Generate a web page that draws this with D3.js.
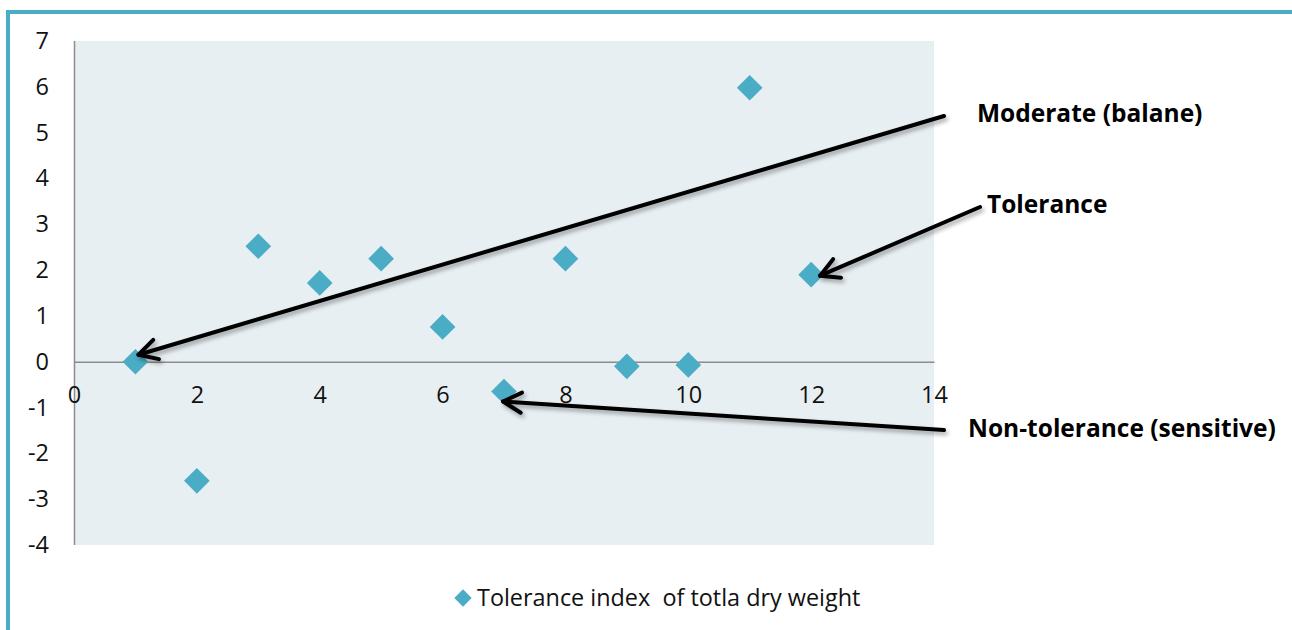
<!DOCTYPE html>
<html>
<head>
<meta charset="utf-8">
<script src="https://cdn.jsdelivr.net/npm/d3@7"></script>
<style>
  html, body { margin: 0; padding: 0; background: #fff; }
  svg { display: block; font-family: "Open Sans", sans-serif; }
</style>
</head>
<body>
<svg id="chart" width="1292" height="630"></svg>
<script>
// Genotype number and tolerance index of total dry weight
const genotype = [1, 2, 3, 4, 5, 6, 7, 8, 9, 10, 11, 12];
const toleranceIndex = [0, -2.6, 2.52, 1.72, 2.25, 0.76, -0.65, 2.25, -0.1, -0.07, 5.98, 1.9];
const xTicks = [0, 2, 4, 6, 8, 10, 12, 14];
const yTicks = [-4, -3, -2, -1, 0, 1, 2, 3, 4, 5, 6, 7];
const seriesName = "Tolerance index  of totla dry weight";

// Annotations: label, the genotype it points at, label anchor
const notes = [
  { label: "Moderate (balane)", target: 1, tail: [944, 116], text: [977, 122], tipOff: [3, -7] },
  { label: "Tolerance", target: 12, tail: [980, 207], text: [987, 213], tipOff: [9, 1] },
  { label: "Non-tolerance (sensitive)", target: 7, tail: [944, 430], text: [968, 437], tipOff: [-1, 10] }
];

const svg = d3.select("#chart");
const teal = "#4bacc6";
const fmt = d => String(d).replace("\u2212", "-");

// frame lines
svg.append("rect").attr("x", 6).attr("y", 10).attr("width", 4).attr("height", 620).attr("fill", teal);
svg.append("rect").attr("x", 6).attr("y", 10).attr("width", 1286).attr("height", 4).attr("fill", teal);

const plot = { left: 74, right: 934, top: 41, bottom: 545 };
const x = d3.scaleLinear().domain([0, 14]).range([plot.left, plot.right]);
const y = d3.scaleLinear().domain([-4, 7]).range([plot.bottom, plot.top]);

// plot background
svg.append("rect")
  .attr("x", plot.left).attr("y", plot.top)
  .attr("width", plot.right - plot.left).attr("height", plot.bottom - plot.top)
  .attr("fill", "#e8eff3");

// y axis line
svg.append("line")
  .attr("x1", plot.left + 0.5).attr("x2", plot.left + 0.5)
  .attr("y1", plot.top).attr("y2", plot.bottom)
  .attr("stroke", "#8c8c8c").attr("stroke-width", 1.5);

// x axis at zero
const xAxis = d3.axisBottom(x).tickValues(xTicks).tickSize(0).tickPadding(25).tickFormat(fmt);
const gx = svg.append("g").attr("transform", `translate(0,${y(0)})`).call(xAxis);
gx.select(".domain").attr("stroke", "#8c8c8c").attr("stroke-width", 1.5);
gx.selectAll("text").attr("font-size", 23.5).attr("fill", "#111").attr("font-family", "'Open Sans', sans-serif");

// y axis labels
const yAxis = d3.axisLeft(y).tickValues(yTicks).tickSize(0).tickPadding(25).tickFormat(fmt);
const gy = svg.append("g").attr("transform", `translate(${plot.left},0)`).call(yAxis);
gy.select(".domain").remove();
gy.selectAll("text").attr("font-size", 23.5).attr("fill", "#111").attr("font-family", "'Open Sans', sans-serif");

// data points
svg.append("g").selectAll("path")
  .data(genotype.map((g, i) => ({ g, v: toleranceIndex[i] })))
  .join("path")
  .attr("d", d3.symbol().type(d3.symbolSquare).size(330))
  .attr("transform", d => `translate(${x(d.g)},${y(d.v)}) rotate(45)`)
  .attr("fill", teal);

// annotation arrows
const defs = svg.append("defs");
const f = defs.append("filter").attr("id", "shadow").attr("x", "-20%").attr("y", "-50%").attr("width", "140%").attr("height", "200%");
f.append("feDropShadow").attr("dx", 2).attr("dy", 3).attr("stdDeviation", 2).attr("flood-color", "#000").attr("flood-opacity", 0.35);

const ag = svg.append("g").attr("filter", "url(#shadow)");
notes.forEach(n => {
  const i = genotype.indexOf(n.target);
  const tx = x(n.target) + n.tipOff[0];
  const ty = y(toleranceIndex[i]) + n.tipOff[1];
  const [sx, sy] = n.tail;
  const ang = Math.atan2(ty - sy, tx - sx);
  const len = 21, spread = 0.5;
  ag.append("line")
    .attr("x1", sx).attr("y1", sy).attr("x2", tx).attr("y2", ty)
    .attr("stroke", "#000").attr("stroke-width", 4).attr("stroke-linecap", "round");
  const p1 = [tx - len * Math.cos(ang - spread), ty - len * Math.sin(ang - spread)];
  const p2 = [tx - len * Math.cos(ang + spread), ty - len * Math.sin(ang + spread)];
  ag.append("path")
    .attr("d", `M${p1[0]},${p1[1]} L${tx},${ty} L${p2[0]},${p2[1]}`)
    .attr("fill", "none").attr("stroke", "#000").attr("stroke-width", 4)
    .attr("stroke-linecap", "round").attr("stroke-linejoin", "round");
  svg.append("text")
    .attr("x", n.text[0]).attr("y", n.text[1])
    .attr("font-size", 24.5).attr("font-weight", "bold").attr("fill", "#000")
    .text(n.label);
});

// legend
const lg = svg.append("g").attr("transform", "translate(463,598)");
lg.append("path").attr("d", d3.symbol().type(d3.symbolSquare).size(150)).attr("transform", "rotate(45)").attr("fill", teal);
lg.append("text").attr("x", 14).attr("y", 8).attr("font-size", 23.4).attr("fill", "#111")
  .attr("xml:space", "preserve").style("white-space", "pre").text(seriesName);
</script>
</body>
</html>
